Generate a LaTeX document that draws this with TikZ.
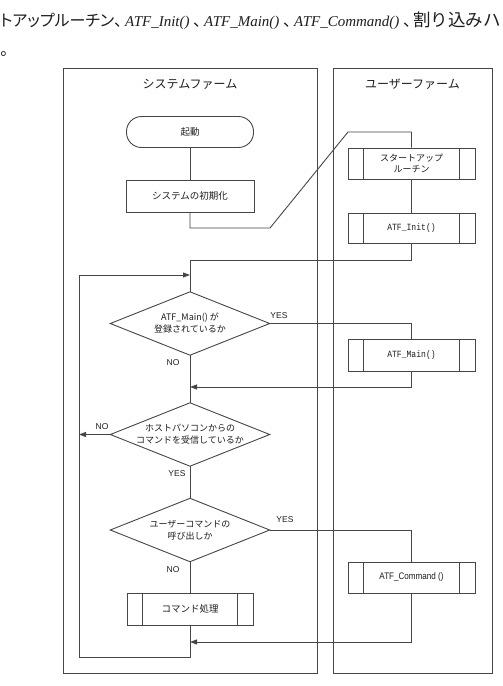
\documentclass[tikz,border=0pt]{standalone}
\usepackage{fontspec}
\setmainfont{Liberation Serif}
\newfontfamily\jp{Noto Sans CJK JP}
\newfontfamily\jpp[RawFeature=+palt]{Noto Sans CJK JP}
\newfontfamily\monof{Liberation Mono}
\newfontfamily\arialf{Liberation Sans}
\usetikzlibrary{arrows.meta}
\definecolor{lc}{RGB}{70,70,70}
\definecolor{tc}{RGB}{30,30,30}
\newcommand{\atfname}[1]{\scalebox{0.85}[1]{\monof\fontsize{9.5}{11}\selectfont #1}}
\newcommand{\atfprop}[1]{\scalebox{0.85}[1]{\arialf\fontsize{9.5}{11}\selectfont #1}}
\newcommand{\tcomma}{\makebox[7pt][l]{、}}
\tikzset{
  ln/.style={draw=lc, line width=0.9pt},
  frame/.style={draw=lc, line width=1pt, inner sep=0},
  title/.style={font=\jp\fontsize{12}{14}\selectfont, text=tc},
  box/.style={ln, minimum width=127pt, minimum height=31pt, inner sep=0,
    font=\jp\fontsize{9.5}{11}\selectfont, text=tc, align=center},
  dec/.style={minimum width=159pt, minimum height=63pt, inner sep=0,
    font=\jp\fontsize{9}{12}\selectfont, text=tc, align=center},
  lbl/.style={font=\arialf\fontsize{8.5}{10}\selectfont, text=tc, inner sep=0},
  arr/.style={ln, -{Triangle[length=7pt,width=5pt]}},
  tjp/.style={anchor=base west, inner sep=0, text=tc, font=\jpp\fontsize{16}{20}\selectfont},
  tjf/.style={anchor=base west, inner sep=0, text=tc, font=\jp\fontsize{17.5}{20}\selectfont},
  tlat/.style={anchor=base west, inner sep=0, text=tc, font=\rmfamily\itshape\fontsize{15}{18}\selectfont},
}
\begin{document}
\begin{tikzpicture}[x=1pt,y=-1pt]
\useasboundingbox (0,0) rectangle (503,686);
\fill[white] (0,0) rectangle (503,686);

% top text
\node[tjp] (t1) at (0,26) {トアップルーチン\tcomma};
\node[tlat] (t2) at (125,26) {ATF\_Init()};
\node[tjp] (t3) at (193,26) {\tcomma};
\node[tlat] (t4) at (204,26) {ATF\_Main()};
\node[tjp] (t5) at (283,26) {\tcomma};
\node[tlat] (t6) at (294,26) {ATF\_Command()};
\node[tjp] (t7) at (403,26) {\tcomma};
\node[tjf] (t8) at (413,26) {割り込みハ};
\node[tjp] (t9) at (0,55) {。};

% frames
\node[frame, minimum width=254pt, minimum height=605pt] (sys) at (190,370.5) {};
\node[frame, minimum width=159pt, minimum height=605pt] (usr) at (412.5,370.5) {};
\node[title] (systitle) at (190,84) {システムファーム};
\node[title] (usrtitle) at (412.5,84) {ユーザーファーム};

% system side
\node[box, rounded corners=15pt] (start) at (190,132) {起動};
\node[box, minimum width=128pt, minimum height=32pt] (init) at (190,196) {システムの初期化};
\node[dec] (d1) at (190,323.5) {ATF\_Main() が\\登録されているか};
\node[dec] (d2) at (190,434.5) {ホストパソコンからの\\コマンドを受信しているか};
\node[dec] (d3) at (190,530) {ユーザーコマンドの\\呼び出しか};
\node[box, minimum width=126pt, minimum height=32pt] (cmdproc) at (190,609) {コマンド処理};

% user side
\node[box, font=\jp\fontsize{9}{11}\selectfont] (startup) at (411.5,163.5) {スタートアップ\\ルーチン};
\node[box, minimum height=30pt] (atfinit) at (411.5,228) {\atfname{ATF\_Init()}};
\node[box, minimum height=32pt] (atfmain) at (411.5,355) {\atfname{ATF\_Main()}};
\node[box] (atfcmd) at (411.5,577.5) {\atfprop{ATF\_Command ()}};

% diamond outlines
\foreach \n in {d1,d2,d3}
  \draw[ln] (\n.north) -- (\n.east) -- (\n.south) -- (\n.west) -- cycle;
% predefined-process side bars
\foreach \n in {startup,atfinit,atfmain,atfcmd,cmdproc}{
  \draw[ln] ([xshift=16pt]\n.north west) -- ([xshift=16pt]\n.south west);
  \draw[ln] ([xshift=-16pt]\n.north east) -- ([xshift=-16pt]\n.south east);
}

% junction coordinates
\coordinate (j1) at (270,228);
\coordinate (j2) at (348,132);
\coordinate (j3) at (190,260);
\coordinate (j4) at (79,657);
\coordinate (j5) at (190,275);
\coordinate (j6) at (190,387);
\coordinate (j7) at (79,434.5);
\coordinate (j8) at (190,642);

% connectors
\draw[ln] (start.south) -- (init.north);
\draw[ln] (init.south) |- (j1) -- (j2) -| (startup.north);
\draw[ln] (startup.south) -- (atfinit.north);
\draw[ln] (atfinit.south) |- (j3) -- (d1.north);
\draw[ln] (d1.east) -| (atfmain.north);
\draw[arr] (atfmain.south) |- (j6);
\draw[ln] (d1.south) -- (d2.north);
\draw[arr] (d2.west) -- (j7);
\draw[ln] (d2.south) -- (d3.north);
\draw[ln] (d3.east) -| (atfcmd.north);
\draw[arr] (atfcmd.south) |- (j8);
\draw[ln] (d3.south) -- (cmdproc.north);
\draw[arr] (cmdproc.south) |- (j4) |- (j5);

% labels
\node[lbl] (y1) at (279,316) {YES};
\node[lbl] (n1) at (173,363) {NO};
\node[lbl] (n2) at (102,427) {NO};
\node[lbl] (y2) at (177,474) {YES};
\node[lbl] (y3) at (285,520) {YES};
\node[lbl] (n3) at (173,570) {NO};
\end{tikzpicture}
\end{document}
